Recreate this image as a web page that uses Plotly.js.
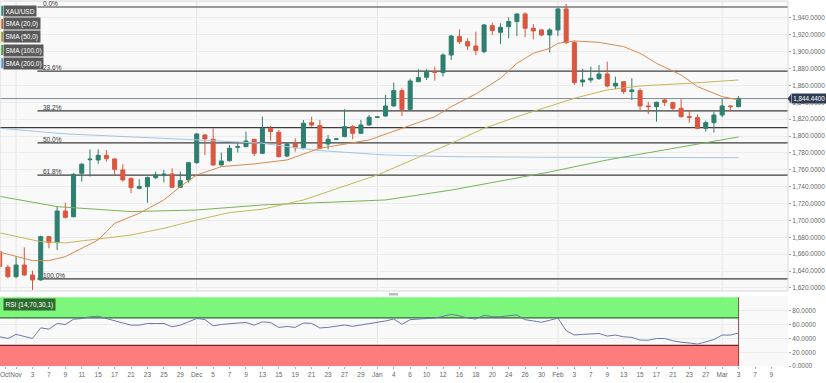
<!DOCTYPE html>
<html><head><meta charset="utf-8">
<script src="https://cdn.plot.ly/plotly-3.0.1.min.js"></script>
<style>html,body{margin:0;padding:0;background:#fff;overflow:hidden}#chart{width:826px;height:383px}</style>
</head><body><div id="chart"></div>
<script>
// ---- data ----
const dates = ["2022-10-28","2022-10-31","2022-11-01","2022-11-02","2022-11-03","2022-11-04","2022-11-07","2022-11-08","2022-11-09","2022-11-10","2022-11-11","2022-11-14","2022-11-15","2022-11-16","2022-11-17","2022-11-18","2022-11-21","2022-11-22","2022-11-23","2022-11-24","2022-11-25","2022-11-28","2022-11-29","2022-11-30","2022-12-01","2022-12-02","2022-12-05","2022-12-06","2022-12-07","2022-12-08","2022-12-09","2022-12-12","2022-12-13","2022-12-14","2022-12-15","2022-12-16","2022-12-19","2022-12-20","2022-12-21","2022-12-22","2022-12-23","2022-12-26","2022-12-27","2022-12-28","2022-12-29","2022-12-30","2023-01-02","2023-01-03","2023-01-04","2023-01-05","2023-01-06","2023-01-09","2023-01-10","2023-01-11","2023-01-12","2023-01-13","2023-01-16","2023-01-17","2023-01-18","2023-01-19","2023-01-20","2023-01-23","2023-01-24","2023-01-25","2023-01-26","2023-01-27","2023-01-30","2023-01-31","2023-02-01","2023-02-02","2023-02-03","2023-02-06","2023-02-07","2023-02-08","2023-02-09","2023-02-10","2023-02-13","2023-02-14","2023-02-15","2023-02-16","2023-02-17","2023-02-20","2023-02-21","2023-02-22","2023-02-23","2023-02-24","2023-02-27","2023-02-28","2023-03-01","2023-03-02","2023-03-03"];
const futureDates = ["2023-03-06","2023-03-07","2023-03-08","2023-03-09","2023-03-10"];

const openP  = [1663.1,1644.5,1633.4,1647.2,1635.4,1629.5,1680.8,1673.7,1711.2,1704.5,1755.9,1772.0,1771.7,1777.2,1772.9,1759.9,1750.0,1738.1,1740.1,1750.8,1754.5,1755.1,1739.3,1748.0,1768.5,1801.3,1796.2,1765.8,1770.9,1786.7,1787.5,1796.2,1779.6,1809.2,1804.5,1776.4,1791.4,1786.3,1815.9,1812.4,1790.6,1796.2,1799.4,1811.2,1803.3,1813.2,1822.3,1823.8,1835.7,1853.9,1831.7,1864.5,1869.7,1876.3,1875.2,1896.1,1917.9,1911.9,1906.8,1900.1,1930.9,1923.0,1929.7,1935.7,1944.7,1927.8,1925.8,1919.8,1925.8,1950.7,1910.8,1864.2,1866.5,1868.1,1873.6,1859.4,1864.5,1852.7,1853.9,1835.7,1834.9,1842.8,1839.6,1832.9,1823.0,1821.9,1809.2,1815.9,1825.0,1835.7,1834.9];
const highP  = [1665.0,1647.2,1657.1,1668.2,1640.5,1682.0,1681.6,1716.4,1721.1,1756.0,1767.8,1784.3,1784.3,1783.5,1773.5,1766.6,1750.5,1748.8,1752.0,1757.9,1759.9,1761.8,1758.0,1769.0,1803.3,1802.5,1809.2,1780.4,1789.5,1793.4,1805.3,1796.6,1823.0,1812.0,1807.3,1792.2,1797.4,1819.1,1823.0,1819.1,1801.3,1797.0,1831.7,1813.2,1819.1,1825.0,1823.5,1848.7,1863.4,1856.6,1868.1,1879.2,1879.2,1882.3,1898.1,1919.8,1926.6,1915.9,1923.8,1932.9,1934.5,1933.7,1940.8,1945.5,1946.7,1932.9,1926.6,1927.8,1951.5,1956.6,1913.1,1879.5,1882.3,1884.3,1888.2,1870.5,1865.0,1868.5,1856.6,1840.8,1840.8,1844.8,1840.8,1844.0,1831.0,1825.8,1818.3,1829.0,1843.6,1836.1,1847.6];
const lowP   = [1643.0,1631.5,1631.5,1634.2,1617.6,1628.7,1667.0,1665.0,1702.2,1703.7,1746.0,1752.0,1767.0,1769.7,1754.0,1746.0,1732.2,1737.0,1721.1,1748.8,1745.2,1739.0,1739.0,1744.8,1767.0,1777.6,1765.0,1765.0,1769.7,1780.4,1786.7,1776.4,1778.8,1794.6,1774.9,1774.9,1781.6,1784.3,1811.0,1784.3,1784.3,1795.5,1798.6,1796.2,1802.5,1812.0,1821.8,1823.0,1834.9,1823.8,1830.2,1864.0,1866.5,1865.7,1870.5,1890.2,1909.2,1902.1,1896.1,1898.1,1919.8,1909.2,1915.9,1918.6,1917.1,1914.7,1918.6,1898.9,1918.6,1909.0,1860.6,1858.6,1863.4,1866.5,1857.8,1855.5,1849.9,1842.8,1829.0,1826.2,1817.1,1835.7,1831.0,1821.9,1815.9,1808.0,1805.3,1804.1,1822.3,1829.0,1834.0];
const closeP = [1645.3,1633.4,1647.2,1635.4,1629.5,1680.8,1673.7,1711.2,1703.7,1754.7,1766.6,1772.6,1777.2,1773.3,1760.6,1748.0,1738.9,1740.1,1750.8,1753.9,1754.8,1739.3,1747.2,1768.5,1802.5,1796.6,1765.8,1770.5,1785.5,1787.5,1794.2,1779.6,1809.2,1805.3,1775.6,1790.6,1786.3,1815.2,1813.1,1785.5,1796.2,1796.6,1811.2,1803.3,1813.2,1822.3,1822.7,1835.7,1853.9,1831.7,1865.3,1869.3,1875.6,1875.6,1896.1,1918.6,1911.9,1906.8,1901.3,1931.7,1925.0,1928.9,1935.7,1944.7,1927.8,1924.6,1919.8,1925.8,1950.7,1910.8,1863.4,1866.5,1868.5,1873.6,1859.4,1862.6,1852.7,1854.7,1835.7,1834.9,1840.0,1840.0,1832.9,1823.0,1822.3,1809.2,1815.9,1825.0,1835.7,1834.9,1844.44];

const rsiValues = [42.5,40,46,43.5,40,55.5,53.6,61.8,60.4,68,69,71.5,72.5,69,65.7,61.8,59.4,59.4,61.8,61.8,61.8,57,59.4,64.2,69.1,67.6,58.4,60.4,61.8,62.5,63.3,59.4,64.2,63.3,56,57.5,56.2,62.5,62,55.3,56.2,58,59.6,57.7,59.6,62,63,65.5,68.4,60.6,67.4,68.2,69.2,69.8,72.2,75.2,73,69.8,68.4,73.7,71.7,71.7,73.2,74.2,67.4,65.9,63.6,66.5,69.8,51.4,45,46,46.5,47.3,43.5,45,42.5,41.6,37.7,37.5,40,40,36.7,34.5,33.5,31.9,35,38.5,45,45,48];

const sma20Dates = ["2022-10-28","2022-11-03","2022-11-07","2022-11-09","2022-11-15","2022-11-17","2022-11-22","2022-11-25","2022-11-29","2022-12-01","2022-12-06","2022-12-12","2022-12-16","2022-12-22","2022-12-30","2023-01-05","2023-01-11","2023-01-13","2023-01-18","2023-01-23","2023-01-25","2023-01-27","2023-01-31","2023-02-01","2023-02-03","2023-02-08","2023-02-13","2023-02-15","2023-02-17","2023-02-22","2023-02-24","2023-03-01","2023-03-03"];
const sma20 = [1662.5,1652.4,1652.4,1657.1,1676.9,1696.6,1708.5,1724.3,1740.1,1753.9,1763.8,1767.0,1771.7,1785.5,1795.4,1809.2,1823.0,1834.9,1849.9,1868.5,1886.3,1898.1,1904.0,1910.0,1912.7,1911.1,1906.0,1898.1,1886.3,1872.4,1858.6,1846.8,1842.8];
const sma50Dates = ["2022-10-28","2022-11-04","2022-11-09","2022-11-15","2022-11-21","2022-11-25","2022-12-01","2022-12-07","2022-12-13","2022-12-20","2023-01-02","2023-01-13","2023-01-19","2023-01-25","2023-01-31","2023-02-03","2023-02-09","2023-02-15","2023-02-23","2023-03-03"];
const sma50 = [1685.2,1674.9,1673.4,1677.7,1682.8,1690.7,1700.6,1709.3,1713.3,1724.3,1753.9,1791.5,1809.2,1823.0,1835.7,1844.8,1854.7,1859.4,1862.6,1866.5];
const sma100Dates = ["2022-10-28","2022-11-08","2022-11-21","2022-12-01","2022-12-13","2023-01-03","2023-01-13","2023-01-31","2023-02-09","2023-02-21","2023-03-03"];
const sma100 = [1728.6,1716.4,1710.5,1712.4,1718.4,1724.3,1736.0,1757.5,1771.7,1785.5,1799.0];
const sma200Dates = ["2022-10-28","2022-11-09","2022-12-01","2022-12-13","2022-12-16","2022-12-22","2023-01-03","2023-01-13","2023-01-31","2023-03-03"];
const sma200 = [1809.3,1802.6,1795.5,1791.5,1787.5,1782.8,1777.6,1775.6,1774.9,1774.4];

const tickDates = ["2022-10-28","2022-11-01","2022-11-03","2022-11-07","2022-11-09","2022-11-11","2022-11-15","2022-11-17","2022-11-21","2022-11-23","2022-11-25","2022-11-29","2022-12-01","2022-12-05","2022-12-07","2022-12-09","2022-12-13","2022-12-15","2022-12-19","2022-12-21","2022-12-23","2022-12-27","2022-12-29","2023-01-02","2023-01-04","2023-01-06","2023-01-10","2023-01-12","2023-01-16","2023-01-18","2023-01-20","2023-01-24","2023-01-26","2023-01-30","2023-02-01","2023-02-03","2023-02-07","2023-02-09","2023-02-13","2023-02-15","2023-02-17","2023-02-21","2023-02-23","2023-02-27","2023-03-01","2023-03-03","2023-03-07","2023-03-09"];
const tickLabels = ["Oct","Nov","3","7","9","11","15","17","21","23","25","29","Dec","5","7","9","13","15","19","21","23","27","29","Jan","4","6","10","12","16","18","20","24","26","30","Feb","3","7","9","13","15","17","21","23","27","Mar","3","7","9"];
const monthStarts = ["2022-11-01","2022-12-01","2023-01-02","2023-02-01","2023-03-01"];

const fibLabels = ["0.0%","23.6%","38.2%","50.0%","61.8%","100.0%"];
const fibPrices = [1953.0,1876.9,1829.9,1791.9,1753.8,1630.7];
const supportLevel = 1810;
const lastPrice = 1844.44;
const priceTicks = [1620,1640,1660,1680,1700,1720,1740,1760,1780,1800,1820,1840,1860,1880,1900,1920,1940];
const rsiTicks = [0,20,40,60,80];
const legendNames = ["XAU/USD","SMA (20,0)","SMA (50,0)","SMA (100,0)","SMA (200,0)"];

// ---- helpers ----
const axisDates = dates.concat(futureDates);
const idx = d => axisDates.indexOf(d);
const xs = dates.map((d,i)=>i);
const PW = 788, PH = 366;
const px = x => x / PW, py = y => (PH - y) / PH;

const C_UP = '#2e7f6f', C_DN = '#d9573f';
const smaColors = ['#d98a4c','#c6b75a','#78b357','#a3c6e2'];
const stripColors = ['#2e8b7a','#c8642d','#a89a2f','#4f9e35','#5b9bd5'];
const FONT = 'Liberation Sans, Arial, sans-serif';

const traces = [
  {type:'scatter', mode:'lines', x:sma200Dates.map(idx), y:sma200, line:{color:smaColors[3], width:1}, xaxis:'x', yaxis:'y', hoverinfo:'skip'},
  {type:'scatter', mode:'lines', x:sma100Dates.map(idx), y:sma100, line:{color:smaColors[2], width:1}, xaxis:'x', yaxis:'y', hoverinfo:'skip'},
  {type:'scatter', mode:'lines', x:sma50Dates.map(idx), y:sma50, line:{color:smaColors[1], width:1}, xaxis:'x', yaxis:'y', hoverinfo:'skip'},
  {type:'scatter', mode:'lines', x:sma20Dates.map(idx), y:sma20, line:{color:smaColors[0], width:1}, xaxis:'x', yaxis:'y', hoverinfo:'skip'},
  {type:'candlestick', x:xs, open:openP, high:highP, low:lowP, close:closeP, xaxis:'x', yaxis:'y',
   increasing:{line:{color:C_UP, width:1}, fillcolor:C_UP},
   decreasing:{line:{color:C_DN, width:1}, fillcolor:C_DN},
   whiskerwidth:0, hoverinfo:'skip'},
  {type:'scatter', mode:'lines', x:xs, y:rsiValues, line:{color:'#6b78aa', width:1}, xaxis:'x', yaxis:'y2', hoverinfo:'skip'}
];

const shapes = [];
const lastIdx = dates.length - 1;
monthStarts.forEach(d => {
  ['y domain','y2 domain'].forEach(r => shapes.push({type:'line', xref:'x', yref:r, x0:idx(d), x1:idx(d), y0:0, y1:1, line:{color:'#e4e4e4', width:1}, layer:'below'}));
});
shapes.push({type:'rect', xref:'x', yref:'y2', x0:-1, x1:lastIdx, y0:70, y1:100, fillcolor:'#7cf77c', line:{width:0}, layer:'between'});
shapes.push({type:'rect', xref:'x', yref:'y2', x0:-1, x1:lastIdx, y0:0, y1:30, fillcolor:'#ff7c7c', line:{width:0}, layer:'between'});
shapes.push({type:'line', xref:'x', yref:'y2', x0:-1, x1:lastIdx, y0:70, y1:70, line:{color:'#2f6a2f', width:1.2}, layer:'between'});
shapes.push({type:'line', xref:'x', yref:'y2', x0:-1, x1:lastIdx, y0:30, y1:30, line:{color:'#6e2424', width:1.2}, layer:'between'});
shapes.push({type:'line', xref:'x', yref:'y2', x0:lastIdx, x1:lastIdx, y0:0, y1:100, line:{color:'#6e2424', width:0.8}, layer:'between'});
const fibStart = idx("2022-11-03") + 0.6;
fibPrices.forEach(p => shapes.push({type:'line', xref:'x', yref:'y', x0:fibStart, x1:100, y0:p, y1:p, line:{color:'#3d3d3d', width:1.2}, layer:'between'}));
shapes.push({type:'line', xref:'paper', yref:'y', x0:0, x1:1, y0:supportLevel, y1:supportLevel, line:{color:'#3d3d3d', width:1.2}, layer:'between'});
shapes.push({type:'line', xref:'paper', yref:'y', x0:0, x1:1, y0:lastPrice, y1:lastPrice, line:{color:'#7d8a99', width:1}, layer:'between'});
shapes.push({type:'rect', xref:'x domain', yref:'y domain', x0:0, x1:1, y0:0, y1:1, line:{color:'#d8d8d8', width:1}, layer:'above'});
shapes.push({type:'rect', xref:'paper', yref:'paper', x0:px(389), x1:px(398), y0:py(295.5), y1:py(293), fillcolor:'#bbbbbb', line:{width:0}});
const tagY = 18 + (1940 - lastPrice) / 320 * 270;
shapes.push({type:'path', xref:'paper', yref:'paper', path:`M ${px(787.5)} ${py(tagY)} L ${px(791)} ${py(tagY-4.5)} L ${px(791)} ${py(tagY+4.5)} Z`, fillcolor:'#2e3d52', line:{width:0}});
const legendY = [10.7, 24, 36.7, 50, 63.3];
legendY.forEach((cy,k) => shapes.push({type:'rect', xref:'paper', yref:'paper', x0:px(1.2), x1:px(3), y0:py(cy+5), y1:py(cy-5), fillcolor:stripColors[k], line:{width:0}}));

const annotations = [];
legendNames.forEach((t,k) => annotations.push({xref:'paper', yref:'paper', x:px(3), y:py(legendY[k]), xanchor:'left', yanchor:'middle', text:t, showarrow:false, bgcolor:'#595959', borderpad:1.5, font:{family:FONT, size:6.5, color:'#ffffff'}}));
annotations.push({xref:'paper', yref:'paper', x:px(3), y:py(304), xanchor:'left', yanchor:'middle', text:'RSI (14,70,30,1)', showarrow:false, bgcolor:'#2f6b2f', borderpad:1.5, font:{family:FONT, size:6.5, color:'#ffffff'}});
fibLabels.forEach((t,k) => annotations.push({xref:'x', yref:'y', x:fibStart + 0.45, y:fibPrices[k], xanchor:'left', yanchor:'middle', yshift:3.5, text:t, showarrow:false, font:{family:FONT, size:6.5, color:'#333'}}));
annotations.push({xref:'paper', yref:'y', x:1, y:lastPrice, xanchor:'left', yanchor:'middle', xshift:2.5, text:'1,844.4400', showarrow:false, bgcolor:'#2e3d52', borderpad:1.2, font:{family:FONT, size:6.3, color:'#ffffff'}});

const tickFont = {family:FONT, size:6.5, color:'#666'};
const layout = {
  width:826, height:383,
  margin:{l:0, r:38, t:0, b:17, pad:0},
  paper_bgcolor:'#ffffff', plot_bgcolor:'#f9f9f9',
  showlegend:false,
  xaxis:{range:[0.04, 96.02], anchor:'y2', rangeslider:{visible:false}, showgrid:false, zeroline:false, showline:false,
         tickmode:'array', tickvals:tickDates.map(d => Math.max(idx(d), 0.66)), ticktext:tickLabels, ticklabeloverflow:'allow', tickangle:0,
         ticks:'outside', ticklen:2, tickcolor:'#aaa', tickfont:tickFont, fixedrange:true},
  yaxis:{domain:[py(291), py(1)], range:[1616.4, 1960.1], side:'right', anchor:'x', tickmode:'array', tickvals:priceTicks, ticklabeloverflow:'allow',
         tickformat:',.4f', ticks:'outside', ticklen:2, tickcolor:'#aaa', tickfont:tickFont, gridcolor:'#ececec', zeroline:false, showline:false},
  yaxis2:{domain:[0, py(296)], range:[0, 101.8], side:'right', anchor:'x', tickmode:'array', tickvals:rsiTicks, ticklabeloverflow:'allow',
         tickformat:'.4f', ticks:'outside', ticklen:2, tickcolor:'#aaa', tickfont:tickFont, gridcolor:'#ececec', zeroline:false, showline:false},
  shapes:shapes, annotations:annotations
};
Plotly.newPlot('chart', traces, layout, {staticPlot:true, displayModeBar:false});
</script></body></html>
